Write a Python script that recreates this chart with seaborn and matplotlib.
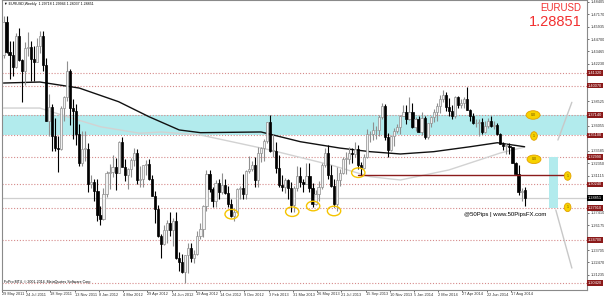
import numpy as np
import pandas as pd
import matplotlib
matplotlib.use("Agg")
import matplotlib.pyplot as plt
import matplotlib.transforms as mtransforms
from matplotlib.patches import Ellipse, Rectangle
import seaborn as sns

# ---------------- data (weekly EURUSD, 29 May 2011 .. 14 Sep 2014) ----------------
opens = [1.4310, 1.4640, 1.4340, 1.4310, 1.4190, 1.4500, 1.4260, 1.4150, 1.4380, 1.4390,
         1.4270, 1.4240, 1.4400, 1.4500, 1.4210, 1.3650, 1.3790, 1.3500, 1.3390, 1.3380,
         1.3780, 1.3890, 1.4150, 1.3780, 1.3750, 1.3520, 1.3240, 1.3380, 1.3380, 1.3030,
         1.3050,
         1.2960, 1.2720, 1.2680, 1.2930, 1.3140, 1.3150, 1.3200, 1.3140, 1.3450, 1.3200,
         1.3120, 1.3180, 1.3270, 1.3340, 1.3070, 1.3080, 1.3220, 1.3230, 1.3080, 1.2910,
         1.2780, 1.2510, 1.2430, 1.2570, 1.2640, 1.2570, 1.2660, 1.2290, 1.2250, 1.2150,
         1.2320, 1.2390, 1.2290, 1.2330, 1.2510, 1.2580, 1.2810, 1.3130, 1.2980, 1.2860,
         1.3040, 1.2950, 1.3020, 1.2940, 1.2830, 1.2710, 1.2750, 1.2980, 1.2990, 1.2930,
         1.3160, 1.3180, 1.3220,
         1.3070, 1.3340, 1.3390, 1.3460, 1.3640, 1.3360, 1.3360, 1.3190, 1.3020, 1.3000,
         1.3070, 1.2990, 1.2820, 1.2990, 1.3110, 1.3050, 1.3030, 1.3110, 1.2990, 1.2830,
         1.2930, 1.3000, 1.3220, 1.3340, 1.3120, 1.3010, 1.2830, 1.3070, 1.3140, 1.3280,
         1.3280, 1.3340, 1.3330, 1.3380, 1.3220, 1.3190, 1.3300, 1.3520, 1.3520, 1.3560,
         1.3560, 1.3690, 1.3800, 1.3490, 1.3370, 1.3500, 1.3550, 1.3590, 1.3700, 1.3740,
         1.3670, 1.3740,
         1.3590, 1.3670, 1.3540, 1.3680, 1.3490, 1.3630, 1.3690, 1.3740, 1.3800, 1.3870,
         1.3910, 1.3790, 1.3750, 1.3700, 1.3890, 1.3810, 1.3830, 1.3870, 1.3760, 1.3700,
         1.3630, 1.3630, 1.3640, 1.3540, 1.3600, 1.3650, 1.3600, 1.3610, 1.3520, 1.3430,
         1.3410, 1.3410, 1.3400, 1.3240, 1.3130, 1.2950, 1.2972]
highs = [1.4700, 1.4698, 1.4450, 1.4450, 1.4530, 1.4580, 1.4270, 1.4440, 1.4540, 1.4450,
         1.4400, 1.4480, 1.4550, 1.4550, 1.4280, 1.3920, 1.3820, 1.3680, 1.3500, 1.3800,
         1.3900, 1.4247, 1.4170, 1.3870, 1.3820, 1.3620, 1.3550, 1.3550, 1.3440, 1.3120,
         1.3080,
         1.3080, 1.2810, 1.2990, 1.3160, 1.3230, 1.3320, 1.3290, 1.3460, 1.3490, 1.3280,
         1.3190, 1.3290, 1.3390, 1.3380, 1.3210, 1.3220, 1.3270, 1.3280, 1.3120, 1.2960,
         1.2820, 1.2530, 1.2620, 1.2670, 1.2750, 1.2690, 1.2750, 1.2350, 1.2330, 1.2320,
         1.2440, 1.2440, 1.2370, 1.2560, 1.2640, 1.2820, 1.3170, 1.3170, 1.3000, 1.3070,
         1.3080, 1.3140, 1.3080, 1.3010, 1.2880, 1.2790, 1.2990, 1.3010, 1.3130, 1.3170,
         1.3310, 1.3260, 1.3300,
         1.3400, 1.3400, 1.3480, 1.3640, 1.3711, 1.3520, 1.3450, 1.3320, 1.3120, 1.3090,
         1.3080, 1.3050, 1.3010, 1.3210, 1.3200, 1.3080, 1.3240, 1.3240, 1.3040, 1.2970,
         1.3060, 1.3240, 1.3390, 1.3420, 1.3220, 1.3080, 1.3200, 1.3180, 1.3300, 1.3350,
         1.3400, 1.3390, 1.3450, 1.3420, 1.3250, 1.3330, 1.3570, 1.3550, 1.3640, 1.3600,
         1.3710, 1.3832, 1.3820, 1.3530, 1.3510, 1.3580, 1.3620, 1.3710, 1.3810, 1.3810,
         1.3893, 1.3830,
         1.3690, 1.3700, 1.3740, 1.3700, 1.3620, 1.3700, 1.3770, 1.3830, 1.3910, 1.3967,
         1.3940, 1.3880, 1.3810, 1.3900, 1.3905, 1.3870, 1.3890, 1.3993, 1.3770, 1.3730,
         1.3670, 1.3670, 1.3680, 1.3650, 1.3680, 1.3700, 1.3650, 1.3630, 1.3530, 1.3450,
         1.3440, 1.3440, 1.3400, 1.3250, 1.3220, 1.2990, 1.2995]
lows = [1.4280, 1.4330, 1.4070, 1.4100, 1.4180, 1.4250, 1.3840, 1.4010, 1.4300, 1.4050,
        1.4050, 1.4240, 1.4330, 1.4150, 1.3650, 1.3500, 1.3360, 1.3360, 1.3150, 1.3370,
        1.3650, 1.3850, 1.3610, 1.3480, 1.3420, 1.3210, 1.3210, 1.3260, 1.2950, 1.2990,
        1.2860,
        1.2660, 1.2624, 1.2670, 1.2900, 1.2980, 1.3100, 1.2970, 1.3140, 1.3260, 1.3060,
        1.2980, 1.3100, 1.3210, 1.3030, 1.3000, 1.3000, 1.3120, 1.3070, 1.2910, 1.2640,
        1.2500, 1.2288, 1.2420, 1.2440, 1.2510, 1.2410, 1.2280, 1.2160, 1.2140, 1.2042,
        1.2140, 1.2250, 1.2240, 1.2320, 1.2480, 1.2500, 1.2760, 1.2950, 1.2800, 1.2800,
        1.2880, 1.2930, 1.2930, 1.2800, 1.2700, 1.2661, 1.2740, 1.2880, 1.2880, 1.2880,
        1.3140, 1.3160, 1.3000,
        1.3000, 1.3250, 1.3260, 1.3440, 1.3350, 1.3300, 1.3140, 1.3000, 1.2960, 1.2940,
        1.2880, 1.2745, 1.2750, 1.2960, 1.3000, 1.2950, 1.3030, 1.2950, 1.2796, 1.2820,
        1.2860, 1.2980, 1.3200, 1.3080, 1.3000, 1.2800, 1.2755, 1.3010, 1.3130, 1.3130,
        1.3230, 1.3240, 1.3300, 1.3180, 1.3105, 1.3180, 1.3290, 1.3450, 1.3470, 1.3480,
        1.3500, 1.3670, 1.3470, 1.3300, 1.3360, 1.3410, 1.3530, 1.3520, 1.3700, 1.3620,
        1.3660, 1.3580,
        1.3550, 1.3540, 1.3510, 1.3480, 1.3480, 1.3590, 1.3640, 1.3650, 1.3730, 1.3840,
        1.3750, 1.3700, 1.3670, 1.3680, 1.3780, 1.3780, 1.3780, 1.3760, 1.3650, 1.3620,
        1.3590, 1.3500, 1.3520, 1.3530, 1.3580, 1.3590, 1.3570, 1.3510, 1.3430, 1.3370,
        1.3330, 1.3330, 1.3240, 1.3130, 1.2920, 1.2860, 1.2804]
closes = [1.4640, 1.4340, 1.4310, 1.4190, 1.4500, 1.4260, 1.4150, 1.4380, 1.4390, 1.4270,
          1.4240, 1.4400, 1.4500, 1.4210, 1.3650, 1.3790, 1.3500, 1.3390, 1.3380, 1.3780,
          1.3890, 1.4150, 1.3780, 1.3750, 1.3520, 1.3240, 1.3380, 1.3380, 1.3030, 1.3050,
          1.2960,
          1.2720, 1.2680, 1.2930, 1.3140, 1.3150, 1.3200, 1.3140, 1.3450, 1.3200, 1.3120,
          1.3180, 1.3270, 1.3340, 1.3070, 1.3080, 1.3220, 1.3230, 1.3080, 1.2910, 1.2780,
          1.2510, 1.2430, 1.2570, 1.2640, 1.2570, 1.2660, 1.2290, 1.2250, 1.2150, 1.2320,
          1.2390, 1.2290, 1.2330, 1.2510, 1.2580, 1.2810, 1.3130, 1.2980, 1.2860, 1.3040,
          1.2950, 1.3020, 1.2940, 1.2830, 1.2710, 1.2750, 1.2980, 1.2990, 1.2930, 1.3160,
          1.3180, 1.3220, 1.3070,
          1.3340, 1.3390, 1.3460, 1.3640, 1.3360, 1.3360, 1.3190, 1.3020, 1.3000, 1.3070,
          1.2990, 1.2820, 1.2990, 1.3110, 1.3050, 1.3030, 1.3110, 1.2990, 1.2830, 1.2930,
          1.3000, 1.3220, 1.3340, 1.3120, 1.3010, 1.2830, 1.3070, 1.3140, 1.3280, 1.3280,
          1.3340, 1.3330, 1.3380, 1.3220, 1.3190, 1.3300, 1.3520, 1.3520, 1.3560, 1.3560,
          1.3690, 1.3800, 1.3490, 1.3370, 1.3500, 1.3550, 1.3590, 1.3700, 1.3740, 1.3670,
          1.3740, 1.3590,
          1.3670, 1.3540, 1.3680, 1.3490, 1.3630, 1.3690, 1.3740, 1.3800, 1.3870, 1.3910,
          1.3790, 1.3750, 1.3700, 1.3890, 1.3810, 1.3830, 1.3870, 1.3760, 1.3700, 1.3630,
          1.3630, 1.3640, 1.3540, 1.3600, 1.3650, 1.3600, 1.3610, 1.3520, 1.3430, 1.3410,
          1.3410, 1.3400, 1.3240, 1.3130, 1.2950, 1.2960, 1.28851]

date_labels = ["29 May 2011", "24 Jul 2011", "18 Sep 2011", "13 Nov 2011", "8 Jan 2012",
               "4 Mar 2012", "29 Apr 2012", "24 Jun 2012", "19 Aug 2012", "14 Oct 2012",
               "9 Dec 2012", "3 Feb 2013", "31 Mar 2013", "26 May 2013", "21 Jul 2013",
               "15 Sep 2013", "10 Nov 2013", "5 Jan 2014", "2 Mar 2014", "27 Apr 2014",
               "22 Jun 2014", "17 Aug 2014"]
date_label_weeks = [0, 8, 16, 24, 32, 40, 48, 56, 64, 72, 80, 88, 96, 104, 112, 120,
                    128, 136, 144, 152, 160, 168]

price_ticks = [1.48405, 1.47170, 1.45935, 1.44700, 1.43465, 1.42230, 1.40995, 1.39760,
               1.38525, 1.37290, 1.36055, 1.34820, 1.33585, 1.32350, 1.31115, 1.29880,
               1.28645, 1.27410, 1.26175, 1.24940, 1.23705, 1.22470, 1.21235, 1.20000]

level_prices = [1.4132, 1.4007, 1.3714, 1.3510, 1.3299, 1.3024, 1.2791, 1.2470, 1.2042]
zone_low, zone_high = 1.3510, 1.3714
current_price = 1.28851
support_price = 1.3112
support_weeks = [117, 186]

slow_ma_weeks = [0, 12, 25, 38, 48, 58, 65, 85, 98, 111, 121, 131, 142, 154, 163, 172]
slow_ma_vals = [1.4032, 1.4042, 1.3982, 1.3846, 1.3697, 1.3565, 1.3538, 1.3545, 1.3448,
                1.3385, 1.3349, 1.3326, 1.3349, 1.3398, 1.3438, 1.3398]
fast_ma_weeks = [0, 12, 21, 32, 45, 52, 65, 88, 108, 121, 131, 147, 157, 164, 172]
fast_ma_vals = [1.3783, 1.3783, 1.3697, 1.3597, 1.3532, 1.3545, 1.3515, 1.3366, 1.3217,
                1.3100, 1.3067, 1.3167, 1.3266, 1.3336, 1.3395]

low_mark_weeks = [75.3, 95.3, 102.2, 109.1, 117.1]
low_mark_prices = [1.2727, 1.2752, 1.2808, 1.2759, 1.3140]

tag_weeks = [174.8, 175.1, 175.1, 186.2, 186.2]
tag_prices = [1.3714, 1.3505, 1.3273, 1.3107, 1.2795]
tag_texts = ["0.0", "1", "0.0", "1", "1"]

target_box = (180.1, 183.1, 1.2791, 1.3293)
fan_upper = ([183.0, 187.6], [1.3465, 1.3840])
fan_lower = ([182.3, 187.6], [1.2769, 1.2191])

# ---------------- figure ----------------
sns.set_style("white")
plt.rcParams['font.family'] = ['Liberation Sans', 'DejaVu Sans']

fig = plt.figure(figsize=(6.04, 2.97), dpi=100)
ax = fig.add_axes([2 / 604, 7 / 297, 585 / 604, 290 / 297])
ax.set_xlim(-0.5, 192.6)
ax.set_ylim(1.19726, 1.48581)

# zone
ax.axhspan(zone_low, zone_high, color='#b2ebed', zorder=0, lw=0)

# level lines
for p in level_prices:
    ax.axhline(p, color='#d58a8a', lw=0.8, ls=(0, (1, 1.6)), zorder=1)
ax.axhline(current_price, color='#cfcfcf', lw=0.9, zorder=1)

# moving averages
sns.lineplot(x=fast_ma_weeks, y=fast_ma_vals, ax=ax, color='#d2d2d2', lw=1.0, zorder=2)
sns.lineplot(x=slow_ma_weeks, y=slow_ma_vals, ax=ax, color='#111111', lw=1.0, zorder=2)

# candles
df = pd.DataFrame({"week": np.arange(len(closes)), "open": opens, "high": highs,
                   "low": lows, "close": closes})
up = (df["close"] >= df["open"]).to_numpy()
wick_cols = np.where(up, '#8f8f8f', '#000000')
ax.vlines(df["week"], df["low"], df["high"], colors=wick_cols, lw=0.8, zorder=3)
body = (df["close"] - df["open"]).abs().clip(lower=0.0006)
bottom = np.minimum(df["open"], df["close"])
ax.bar(df["week"], body, bottom=bottom, width=0.72,
       color=np.where(up, '#f2f2f2', '#000000'),
       edgecolor=np.where(up, '#8f8f8f', '#000000'), linewidth=0.5, zorder=4)

# support line
ax.plot(support_weeks, [support_price, support_price], color='#8b1c1c', lw=1.0, zorder=5)

# low markers
for w, p in zip(low_mark_weeks, low_mark_prices):
    ax.add_patch(Ellipse((w, p), width=4.4, height=0.0095, fill=False,
                         edgecolor='#f5c400', lw=1.0, zorder=6))

# tags
for w, p, t in zip(tag_weeks, tag_prices, tag_texts):
    wdt = 4.6 if len(t) > 1 else 2.2
    ax.add_patch(Ellipse((w, p), width=wdt, height=0.0085, facecolor='#f7d200',
                         edgecolor='#e2a000', lw=0.6, zorder=6))
    ax.text(w, p, t, fontsize=2.6, ha='center', va='center', color='#6b4a00', zorder=7)

# target box and fan
x0, x1, y0, y1 = target_box
ax.add_patch(Rectangle((x0, y0), x1 - x0, y1 - y0, facecolor='#b2ebed', edgecolor='none', zorder=2))
ax.plot(*fan_upper, color='#c8c8c8', lw=1.0, zorder=2)
ax.plot(*fan_lower, color='#c8c8c8', lw=1.0, zorder=2)

# axes styling
for s in ax.spines.values():
    s.set_color('#8a8a8a')
    s.set_linewidth(0.8)
ax.yaxis.tick_right()
# MetaTrader hides the scale labels that sit under a price box
boxed = level_prices + [current_price]
shown_ticks = [v for v in price_ticks if min(abs(v - b) for b in boxed) > 0.0045]
ax.set_yticks(shown_ticks)
ax.set_yticklabels([f"{v:.5f}" for v in shown_ticks])
ax.tick_params(axis='y', length=1.5, width=0.5, pad=0.8, labelsize=2.8, colors='#333333',
               right=True, left=False)
ax.set_xticks([w - 0.5 for w in date_label_weeks])
ax.set_xticklabels(date_labels, ha='left')
ax.tick_params(axis='x', length=1.5, width=0.5, pad=0.3, labelsize=2.8, colors='#333333',
               bottom=True)
ax.set_xlabel("")
ax.set_ylabel("")

# level price boxes on the axis
trans = mtransforms.blended_transform_factory(ax.transAxes, ax.transData)
for p in level_prices:
    ax.text(1.002, p, f"{p:.5f}", transform=trans, fontsize=2.8, color='white',
            ha='left', va='center', clip_on=False, zorder=10,
            bbox=dict(facecolor='#8b1a1a', edgecolor='none', pad=0.6))
ax.text(1.002, current_price, f"{current_price:.5f}", transform=trans, fontsize=2.8,
        color='white', ha='left', va='center', clip_on=False, zorder=10,
        bbox=dict(facecolor='#000000', edgecolor='none', pad=0.6))

# texts
ax.text(0.003, 0.992, "\u25bc EURUSD,Weekly  1.29718 1.29946 1.28037 1.28851",
        transform=ax.transAxes, fontsize=2.6, ha='left', va='top', color='#000000')
ax.text(0.003, 0.022, "FxPro MT4, \u00a9 2001-2014, MetaQuotes Software Corp.",
        transform=ax.transAxes, fontsize=2.6, ha='left', va='bottom', color='#000000')
ax.text(0.991, 0.99, "EURUSD", transform=ax.transAxes, fontsize=7.0, ha='right', va='top',
        color='#f23030')
ax.text(0.991, 0.95, "1.28851", transform=ax.transAxes, fontsize=10.5, ha='right', va='top',
        color='#f23030')
ax.text(0.789, 0.262, "@50Pips | www.50PipsFX.com", transform=ax.transAxes, fontsize=4.3,
        ha='left', va='center', color='#000000')

fig.savefig("out.png", dpi=100)
